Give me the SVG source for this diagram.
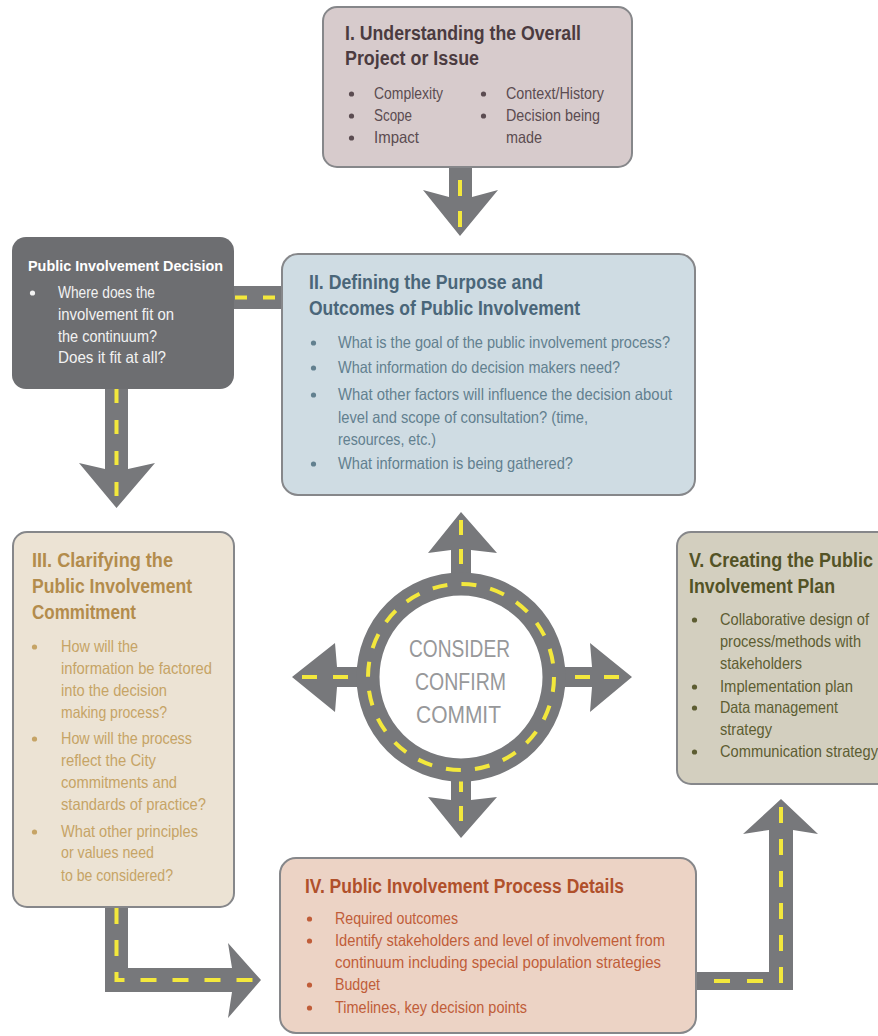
<svg xmlns="http://www.w3.org/2000/svg" width="878" height="1036" viewBox="0 0 878 1036">
<style>
text{font-family:"Liberation Sans",Arial,sans-serif}
.t{font-size:20px;font-weight:bold}
.b{font-size:16.5px}
.box{stroke:#86878a;stroke-width:2}
.road{fill:#77787b}
.dash{fill:none;stroke:#f3e83c;stroke-width:4;stroke-linecap:butt;stroke-linejoin:miter}
.c1{fill:#4b3b40}.c1b{fill:#5b4c51}
.c2{fill:#4a6679}.c2b{fill:#62808f}
.c3{fill:#b38c4c}.c3b{fill:#c6a466}
.c4{fill:#b0502b}.c4b{fill:#c05d39}
.c5{fill:#535326}.c5b{fill:#5d5d32}
.ctr{font-size:24px;fill:#97989a}
</style>
<g id="connectors">
  <!-- I -> II -->
  <polygon class="road" points="449,160 449,197 423,190 460,236 498,190 472,197 472,160"/>
  <line class="dash" x1="460" y1="180" x2="460" y2="230" stroke-dasharray="16 15"/>
  <!-- Decision -> II -->
  <rect class="road" x="228" y="286" width="56" height="23"/>
  <line class="dash" x1="235" y1="297.5" x2="281" y2="297.5" stroke-dasharray="12 16"/>
  <!-- Decision -> III -->
  <polygon class="road" points="105,385 105,469 79,463 116.5,508 155,463 128,469 128,385"/>
  <line class="dash" x1="116.5" y1="389" x2="116.5" y2="503" stroke-dasharray="14 17"/>
  <!-- III -> IV -->
  <polygon class="road" points="105,900 105,992 232,992 228,1018 261,980 228,943 232,968 128,968 128,900"/>
  <path class="dash" d="M116.5,908 V980 H256" stroke-dasharray="16 16"/>
  <!-- IV -> V -->
  <polygon class="road" points="690,972 769,972 769,830 743,834 781,799 818,834 793,830 793,990 690,990"/>
  <line class="dash" x1="681" y1="981" x2="763" y2="981" stroke-dasharray="16 17"/>
  <line class="dash" x1="781" y1="983" x2="781" y2="806" stroke-dasharray="16 16"/>
  <!-- Center roundabout -->
  <polygon class="road" points="451,590 451,550 428,553 461,512 497,553 471,550 471,590"/>
  <polygon class="road" points="451,765 451,800 428,797 461,838 497,797 471,800 471,765"/>
  <polygon class="road" points="370,667 337,667 335,643 292,677 335,712 337,687 370,687"/>
  <polygon class="road" points="552,667 592,667 590,643 632,677 590,712 592,687 552,687"/>
  <line class="dash" x1="461" y1="520" x2="461" y2="580" stroke-dasharray="15 14"/>
  <line class="dash" x1="461" y1="777" x2="461" y2="834" stroke-dasharray="15 14"/>
  <line class="dash" x1="302" y1="677" x2="362" y2="677" stroke-dasharray="15 16"/>
  <line class="dash" x1="575" y1="677" x2="628" y2="677" stroke-dasharray="15 14"/>
  <circle cx="461" cy="677" r="93" fill="#ffffff" stroke="#77787b" stroke-width="23"/>
  <circle class="dash" cx="461" cy="677" r="93" stroke-dasharray="15 14.2"/>
</g>
<g id="center">
  <text class="ctr" x="409" y="657" textLength="101" lengthAdjust="spacingAndGlyphs">CONSIDER</text>
  <text class="ctr" x="415" y="690" textLength="91" lengthAdjust="spacingAndGlyphs">CONFIRM</text>
  <text class="ctr" x="416" y="723" textLength="85" lengthAdjust="spacingAndGlyphs">COMMIT</text>
</g>
<g id="node-I">
  <rect class="box" x="323" y="7" width="309" height="160" rx="14" fill="#d7cbcc"/>
  <text class="t c1" x="345" y="40" textLength="236" lengthAdjust="spacingAndGlyphs">I. Understanding the Overall</text>
  <text class="t c1" x="345" y="65" textLength="134" lengthAdjust="spacingAndGlyphs">Project or Issue</text>
  <g class="c1b">
    <circle cx="351.5" cy="94" r="2.6"/><circle cx="351.5" cy="116" r="2.6"/><circle cx="351.5" cy="138" r="2.6"/>
    <circle cx="483.5" cy="94" r="2.6"/><circle cx="483.5" cy="116" r="2.6"/>
    <text class="b" x="374" y="99" textLength="69" lengthAdjust="spacingAndGlyphs">Complexity</text>
    <text class="b" x="374" y="121" textLength="38" lengthAdjust="spacingAndGlyphs">Scope</text>
    <text class="b" x="374" y="143" textLength="45" lengthAdjust="spacingAndGlyphs">Impact</text>
    <text class="b" x="506" y="99" textLength="98" lengthAdjust="spacingAndGlyphs">Context/History</text>
    <text class="b" x="506" y="121" textLength="94" lengthAdjust="spacingAndGlyphs">Decision being</text>
    <text class="b" x="506" y="143" textLength="36" lengthAdjust="spacingAndGlyphs">made</text>
  </g>
</g>
<g id="node-decision">
  <rect x="12" y="237" width="222" height="152" rx="14" fill="#6d6e71"/>
  <text x="28" y="271" font-size="15.5" font-weight="bold" fill="#ffffff" textLength="195" lengthAdjust="spacingAndGlyphs">Public Involvement Decision</text>
  <g fill="#f2f2f2">
    <circle cx="32.5" cy="293" r="2.6"/>
    <text class="b" x="58" y="298" textLength="97" lengthAdjust="spacingAndGlyphs">Where does the</text>
    <text class="b" x="58" y="320" textLength="116" lengthAdjust="spacingAndGlyphs">involvement fit on</text>
    <text class="b" x="58" y="342" textLength="99" lengthAdjust="spacingAndGlyphs">the continuum?</text>
    <text class="b" x="58" y="363" textLength="108" lengthAdjust="spacingAndGlyphs">Does it fit at all?</text>
  </g>
</g>
<g id="node-II">
  <rect class="box" x="282" y="254" width="413" height="241" rx="16" fill="#cfdce3"/>
  <text class="t c2" x="309" y="289" textLength="234" lengthAdjust="spacingAndGlyphs">II. Defining the Purpose and</text>
  <text class="t c2" x="309" y="315" textLength="271" lengthAdjust="spacingAndGlyphs">Outcomes of Public Involvement</text>
  <g class="c2b">
    <circle cx="313.5" cy="343" r="2.6"/><circle cx="313.5" cy="368" r="2.6"/><circle cx="313.5" cy="395" r="2.6"/><circle cx="313.5" cy="464" r="2.6"/>
    <text class="b" x="338" y="348" textLength="332" lengthAdjust="spacingAndGlyphs">What is the goal of the public involvement process?</text>
    <text class="b" x="338" y="373" textLength="282" lengthAdjust="spacingAndGlyphs">What information do decision makers need?</text>
    <text class="b" x="338" y="400" textLength="334" lengthAdjust="spacingAndGlyphs">What other factors will influence the decision about</text>
    <text class="b" x="338" y="423" textLength="250" lengthAdjust="spacingAndGlyphs">level and scope of consultation? (time,</text>
    <text class="b" x="338" y="445" textLength="98" lengthAdjust="spacingAndGlyphs">resources, etc.)</text>
    <text class="b" x="338" y="469" textLength="235" lengthAdjust="spacingAndGlyphs">What information is being gathered?</text>
  </g>
</g>
<g id="node-III">
  <rect class="box" x="13" y="532" width="221" height="375" rx="14" fill="#ece3d4"/>
  <text class="t c3" x="32" y="567" textLength="141" lengthAdjust="spacingAndGlyphs">III. Clarifying the</text>
  <text class="t c3" x="32" y="593" textLength="160" lengthAdjust="spacingAndGlyphs">Public Involvement</text>
  <text class="t c3" x="32" y="619" textLength="104" lengthAdjust="spacingAndGlyphs">Commitment</text>
  <g class="c3b">
    <circle cx="34.5" cy="647" r="2.6"/><circle cx="34.5" cy="739" r="2.6"/><circle cx="34.5" cy="832" r="2.6"/>
    <text class="b" x="61" y="652" textLength="77" lengthAdjust="spacingAndGlyphs">How will the</text>
    <text class="b" x="61" y="674" textLength="151" lengthAdjust="spacingAndGlyphs">information be factored</text>
    <text class="b" x="61" y="696" textLength="106" lengthAdjust="spacingAndGlyphs">into the decision</text>
    <text class="b" x="61" y="718" textLength="106" lengthAdjust="spacingAndGlyphs">making process?</text>
    <text class="b" x="61" y="744" textLength="131" lengthAdjust="spacingAndGlyphs">How will the process</text>
    <text class="b" x="61" y="766" textLength="95" lengthAdjust="spacingAndGlyphs">reflect the City</text>
    <text class="b" x="61" y="788" textLength="116" lengthAdjust="spacingAndGlyphs">commitments and</text>
    <text class="b" x="61" y="810" textLength="145" lengthAdjust="spacingAndGlyphs">standards of practice?</text>
    <text class="b" x="61" y="837" textLength="137" lengthAdjust="spacingAndGlyphs">What other principles</text>
    <text class="b" x="61" y="858" textLength="93" lengthAdjust="spacingAndGlyphs">or values need</text>
    <text class="b" x="61" y="881" textLength="112" lengthAdjust="spacingAndGlyphs">to be considered?</text>
  </g>
</g>
<g id="node-IV">
  <rect class="box" x="280" y="858" width="416" height="175" rx="16" fill="#ecd3c5"/>
  <text class="t c4" x="305" y="893" textLength="319" lengthAdjust="spacingAndGlyphs">IV. Public Involvement Process Details</text>
  <g class="c4b">
    <circle cx="309.5" cy="919" r="2.6"/><circle cx="309.5" cy="941" r="2.6"/><circle cx="309.5" cy="985" r="2.6"/><circle cx="309.5" cy="1008" r="2.6"/>
    <text class="b" x="335" y="924" textLength="123" lengthAdjust="spacingAndGlyphs">Required outcomes</text>
    <text class="b" x="335" y="946" textLength="330" lengthAdjust="spacingAndGlyphs">Identify stakeholders and level of involvement from</text>
    <text class="b" x="335" y="968" textLength="326" lengthAdjust="spacingAndGlyphs">continuum including special population strategies</text>
    <text class="b" x="335" y="990" textLength="45" lengthAdjust="spacingAndGlyphs">Budget</text>
    <text class="b" x="335" y="1013" textLength="192" lengthAdjust="spacingAndGlyphs">Timelines, key decision points</text>
  </g>
</g>
<g id="node-V">
  <rect class="box" x="677" y="532" width="230" height="252" rx="14" fill="#d3cfbf"/>
  <text class="t c5" x="689" y="567" textLength="184" lengthAdjust="spacingAndGlyphs">V. Creating the Public</text>
  <text class="t c5" x="689" y="593" textLength="146" lengthAdjust="spacingAndGlyphs">Involvement Plan</text>
  <g class="c5b">
    <circle cx="694.5" cy="620" r="2.6"/><circle cx="694.5" cy="687" r="2.6"/><circle cx="694.5" cy="708" r="2.6"/><circle cx="694.5" cy="752" r="2.6"/>
    <text class="b" x="720" y="625" textLength="149" lengthAdjust="spacingAndGlyphs">Collaborative design of</text>
    <text class="b" x="720" y="647" textLength="141" lengthAdjust="spacingAndGlyphs">process/methods with</text>
    <text class="b" x="720" y="669" textLength="82" lengthAdjust="spacingAndGlyphs">stakeholders</text>
    <text class="b" x="720" y="692" textLength="133" lengthAdjust="spacingAndGlyphs">Implementation plan</text>
    <text class="b" x="720" y="713" textLength="118" lengthAdjust="spacingAndGlyphs">Data management</text>
    <text class="b" x="720" y="735" textLength="52" lengthAdjust="spacingAndGlyphs">strategy</text>
    <text class="b" x="720" y="757" textLength="158" lengthAdjust="spacingAndGlyphs">Communication strategy</text>
  </g>
</g>
</svg>
